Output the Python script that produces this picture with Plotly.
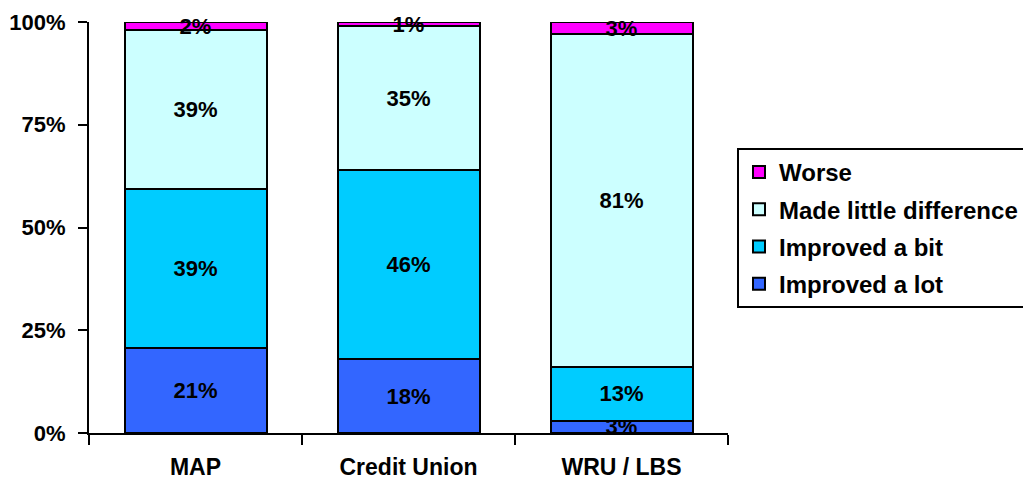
import plotly.graph_objects as go

categories = ["MAP", "Credit Union", "WRU / LBS"]
improved_lot = [21, 18, 3]
improved_bit = [39, 46, 13]
little_diff = [39, 35, 81]
worse = [2, 1, 3]
y_ticks = [0, 25, 50, 75, 100]

series = [
    ("Improved a lot", improved_lot, "#3366FF"),
    ("Improved a bit", improved_bit, "#00CCFF"),
    ("Made little difference", little_diff, "#CCFFFF"),
    ("Worse", worse, "#FF00FF"),
]

FONT = "Liberation Sans, Arial, sans-serif"

fig = go.Figure()
for i, (name, vals, color) in enumerate(series):
    fig.add_trace(go.Bar(
        name=name,
        x=categories,
        y=vals,
        text=[f"{v}%" for v in vals],
        textposition="inside",
        insidetextanchor="middle",
        textangle=0,
        constraintext="none",
        cliponaxis=False,
        textfont=dict(family=FONT, size=22, color="black", weight="bold"),
        marker=dict(color=color, line=dict(color="black", width=2)),
        legendgroup=name,
        legendrank=1000 - i,  # top segment listed first
        hoverinfo="skip",
    ))

fig.update_layout(
    width=1023,
    height=481,
    barmode="stack",
    barnorm="percent",
    bargap=1/3,
    plot_bgcolor="white",
    paper_bgcolor="white",
    margin=dict(l=89, r=295, t=22, b=48, autoexpand=False),
    uniformtext=dict(minsize=22, mode="show"),
    font=dict(family=FONT, color="black"),
    legend=dict(
        x=(737 - 89) / 639,
        xanchor="left",
        y=(433 - 148) / 411,
        yanchor="top",
        traceorder="grouped",
        tracegroupgap=3,
        bordercolor="black",
        borderwidth=2,
        bgcolor="white",
        font=dict(family=FONT, size=24, color="black", weight="bold"),
    ),
    xaxis=dict(
        automargin=False,
        showline=True,
        linecolor="black",
        linewidth=2,
        ticks="outside",
        tickson="boundaries",
        ticklen=10,
        tickwidth=2,
        tickcolor="black",
        showgrid=False,
        ticklabelstandoff=12,
        tickfont=dict(family=FONT, size=23, color="black", weight="bold"),
    ),
    yaxis=dict(
        automargin=False,
        range=[0, 100],
        tickvals=y_ticks,
        ticktext=[f"{t}%" for t in y_ticks],
        showline=True,
        linecolor="black",
        linewidth=2,
        ticks="outside",
        ticklen=9,
        tickwidth=2,
        tickcolor="black",
        showgrid=False,
        zeroline=False,
        ticklabelstandoff=8,
        tickfont=dict(family=FONT, size=22, color="black", weight="bold"),
    ),
)

fig.write_html("out.html")
